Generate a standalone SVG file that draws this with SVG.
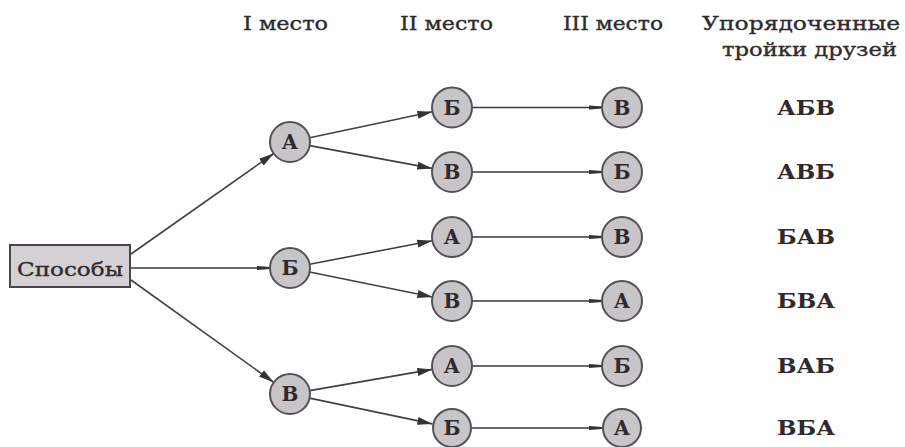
<svg xmlns="http://www.w3.org/2000/svg" width="905" height="447" viewBox="0 0 905 447">
<defs>
<style>
.t{font-family:"DejaVu Serif","Liberation Serif",serif;font-size:19px;fill:#2e2a2e;stroke:#2e2a2e;stroke-width:0.35}
.n{fill:#c8c5c9;stroke:#555058;stroke-width:2}
.nl{font-family:"DejaVu Serif","Liberation Serif",serif;font-size:20px;font-weight:bold;fill:#2e2a2e;text-anchor:middle}
.e{stroke:#433f45;stroke-width:1.6;fill:none;marker-end:url(#ah)}
.h{stroke:#3d3540;stroke-width:1.6;fill:none;marker-end:url(#as)}
.r{font-family:"DejaVu Serif","Liberation Serif",serif;font-size:20px;font-weight:bold;fill:#2e2a2e;text-anchor:middle}
</style>
<marker id="ah" markerUnits="userSpaceOnUse" markerWidth="16" markerHeight="10" refX="15" refY="5" orient="auto"><path d="M0,1 L15,5 L0,9 Z" fill="#333"/></marker>
<marker id="as" markerUnits="userSpaceOnUse" markerWidth="14" markerHeight="6" refX="13" refY="3" orient="auto"><path d="M0,1 L13,2 L13,4 L0,5 Z" fill="#333"/></marker>
</defs>
<rect width="905" height="447" fill="#fff"/>
<g id="headers">
<text class="t" x="243" y="30" textLength="85" lengthAdjust="spacingAndGlyphs">I место</text>
<text class="t" x="400" y="30" textLength="93" lengthAdjust="spacingAndGlyphs">II место</text>
<text class="t" x="563" y="30" textLength="100" lengthAdjust="spacingAndGlyphs">III место</text>
<text class="t" x="702" y="30" textLength="198" lengthAdjust="spacingAndGlyphs">Упорядоченные</text>
<text class="t" x="722" y="56" textLength="175" lengthAdjust="spacingAndGlyphs">тройки друзей</text>
</g>
<g id="connectors">
<line class="e" x1="131" y1="254" x2="273.7" y2="153.5"/>
<line class="h" x1="131" y1="268" x2="270" y2="268"/>
<line class="e" x1="131" y1="280" x2="273.7" y2="382.3"/>
<line class="e" x1="309.6" y1="137.8" x2="432.4" y2="111.7"/>
<line class="e" x1="309.7" y1="145.6" x2="432.3" y2="168.4"/>
<line class="e" x1="309.6" y1="264.2" x2="432.3" y2="240.8"/>
<line class="e" x1="309.6" y1="272" x2="432.4" y2="297"/>
<line class="e" x1="309.7" y1="390.6" x2="432.3" y2="369.4"/>
<line class="e" x1="309.6" y1="398.1" x2="432.4" y2="423.9"/>
<line class="h" x1="472" y1="107.5" x2="602" y2="107.5"/>
<line class="h" x1="472" y1="172" x2="602" y2="172"/>
<line class="h" x1="472" y1="237" x2="602" y2="237"/>
<line class="h" x1="472" y1="301" x2="602" y2="301"/>
<line class="h" x1="472" y1="366" x2="602" y2="366"/>
<line class="h" x1="472" y1="428" x2="602" y2="428"/>
</g>
<g id="root"><rect x="10" y="245" width="120" height="42" fill="#d3d1d3" stroke="#49454b" stroke-width="2"/><text class="t" x="17" y="276" font-size="21" textLength="106" lengthAdjust="spacingAndGlyphs">Способы</text></g>
<g id="l1-a"><circle class="n" cx="290" cy="142" r="20"/><text class="nl" x="290" y="149">А</text></g>
<g id="l1-b"><circle class="n" cx="290" cy="268" r="20"/><text class="nl" x="290" y="275">Б</text></g>
<g id="l1-v"><circle class="n" cx="290" cy="394" r="20"/><text class="nl" x="290" y="401">В</text></g>
<g id="l2-1"><circle class="n" cx="452" cy="107.5" r="20"/><text class="nl" x="452" y="114.5">Б</text></g>
<g id="l2-2"><circle class="n" cx="452" cy="172" r="20"/><text class="nl" x="452" y="179">В</text></g>
<g id="l2-3"><circle class="n" cx="452" cy="237" r="20"/><text class="nl" x="452" y="244">А</text></g>
<g id="l2-4"><circle class="n" cx="452" cy="301" r="20"/><text class="nl" x="452" y="308">В</text></g>
<g id="l2-5"><circle class="n" cx="452" cy="366" r="20"/><text class="nl" x="452" y="373">А</text></g>
<g id="l2-6"><circle class="n" cx="452" cy="428" r="19"/><text class="nl" x="452" y="435">Б</text></g>
<g id="l3-1"><circle class="n" cx="622" cy="107.5" r="20"/><text class="nl" x="622" y="114.5">В</text></g>
<g id="l3-2"><circle class="n" cx="622" cy="172" r="20"/><text class="nl" x="622" y="179">Б</text></g>
<g id="l3-3"><circle class="n" cx="622" cy="237" r="20"/><text class="nl" x="622" y="244">В</text></g>
<g id="l3-4"><circle class="n" cx="622" cy="301" r="20"/><text class="nl" x="622" y="308">А</text></g>
<g id="l3-5"><circle class="n" cx="622" cy="366" r="20"/><text class="nl" x="622" y="373">Б</text></g>
<g id="l3-6"><circle class="n" cx="622" cy="428" r="19"/><text class="nl" x="622" y="435">А</text></g>
<g id="results">
<text class="r" x="806" y="115" textLength="58" lengthAdjust="spacingAndGlyphs">АБВ</text>
<text class="r" x="806" y="179" textLength="58" lengthAdjust="spacingAndGlyphs">АВБ</text>
<text class="r" x="806" y="244" textLength="58" lengthAdjust="spacingAndGlyphs">БАВ</text>
<text class="r" x="806" y="308" textLength="58" lengthAdjust="spacingAndGlyphs">БВА</text>
<text class="r" x="806" y="373" textLength="58" lengthAdjust="spacingAndGlyphs">ВАБ</text>
<text class="r" x="806" y="435" textLength="58" lengthAdjust="spacingAndGlyphs">ВБА</text>
</g>
</svg>
